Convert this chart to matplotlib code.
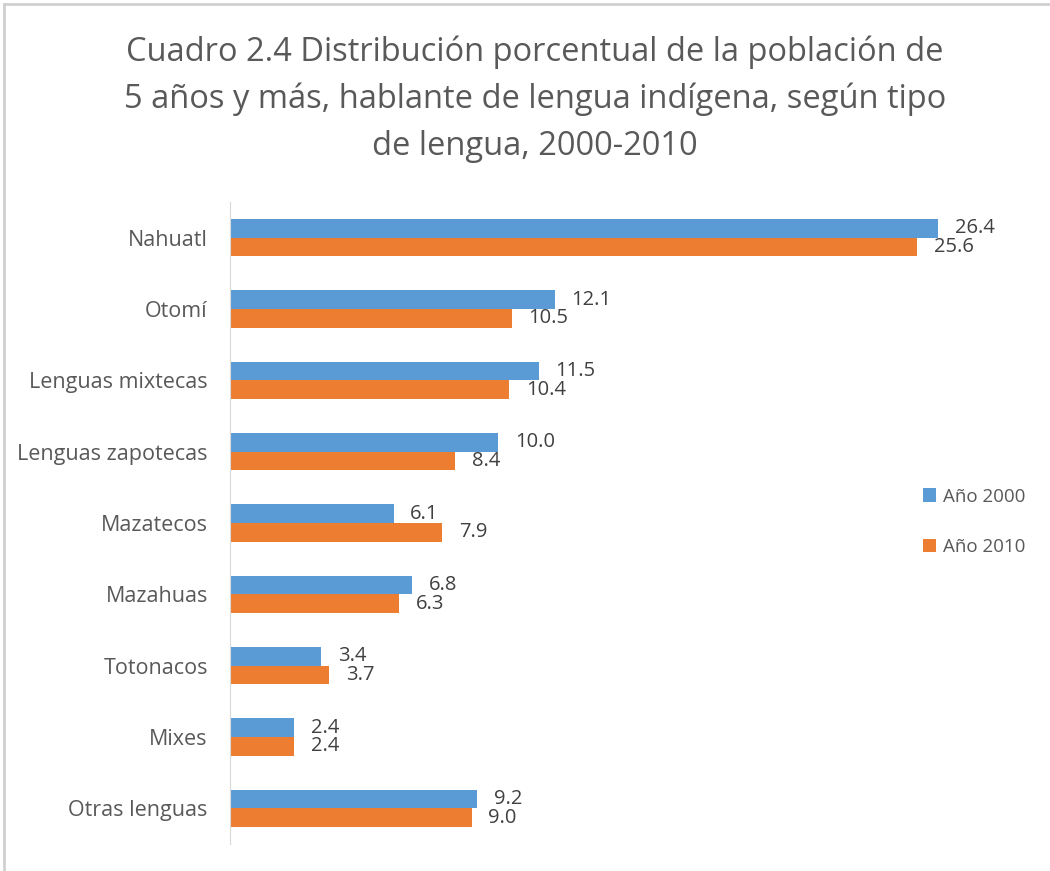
import matplotlib
matplotlib.use("Agg")
import matplotlib.pyplot as plt
from matplotlib.lines import Line2D
import numpy as np

plt.rcParams['font.family'] = ['Open Sans', 'DejaVu Sans']

categories = ["Nahuatl", "Otomí", "Lenguas mixtecas", "Lenguas zapotecas",
              "Mazatecos", "Mazahuas", "Totonacos", "Mixes", "Otras lenguas"]
anio_2000 = [26.4, 12.1, 11.5, 10.0, 6.1, 6.8, 3.4, 2.4, 9.2]
anio_2010 = [25.6, 10.5, 10.4, 8.4, 7.9, 6.3, 3.7, 2.4, 9.0]
series_names = ["Año 2000", "Año 2010"]
title = ("Cuadro 2.4 Distribución porcentual de la población de\n"
         "5 años y más, hablante de lengua indígena, según tipo\n"
         "de lengua, 2000-2010")

blue = "#5B9BD5"
orange = "#ED7D31"
gray_text = "#595959"

fig = plt.figure(figsize=(10.5, 8.71), dpi=100)
ax = fig.add_axes([230/1050, 27/871, 805/1050, 642/871])

y = np.arange(len(categories))
h = 0.26
b1 = ax.barh(y - h/2, anio_2000, height=h, color=blue, label=series_names[0])
b2 = ax.barh(y + h/2, anio_2010, height=h, color=orange, label=series_names[1])
ax.set_ylim(len(categories) - 0.5, -0.5)
ax.set_xlim(0, 30)

for bars, vals in ((b1, anio_2000), (b2, anio_2010)):
    for rect, v in zip(bars, vals):
        ax.annotate(f"{v:.1f}", (rect.get_width(), rect.get_y() + rect.get_height()/2),
                    xytext=(12, 0), textcoords="offset points", ha="left", va="center",
                    fontsize=14.5, color="#404040")

ax.set_yticks(y)
ax.set_yticklabels(categories, fontsize=15.5, color=gray_text)
ax.tick_params(axis='y', length=0, pad=16)
ax.set_xticks([])
for s in ("top", "right", "bottom"):
    ax.spines[s].set_visible(False)
ax.spines["left"].set_color("#D9D9D9")

leg = fig.legend(handles=[b1, b2], loc="center left", bbox_to_anchor=(906/1050, 1 - 522/871),
                 frameon=False, fontsize=13.5, handlelength=0.7, handleheight=0.7,
                 handletextpad=0.35, labelspacing=1.75)
for t in leg.get_texts():
    t.set_color(gray_text)

fig.text(535/1050, 1 - 99/871, title, ha="center", va="center", fontsize=23.5,
         color=gray_text, linespacing=1.55)

# chart border
fig.add_artist(Line2D([4/1050, 1], [1 - 4/871, 1 - 4/871], color="#D0D0D0", lw=2))
fig.add_artist(Line2D([4/1050, 4/1050], [0, 1 - 4/871], color="#D0D0D0", lw=2))

fig.savefig("out.png", dpi=100)
